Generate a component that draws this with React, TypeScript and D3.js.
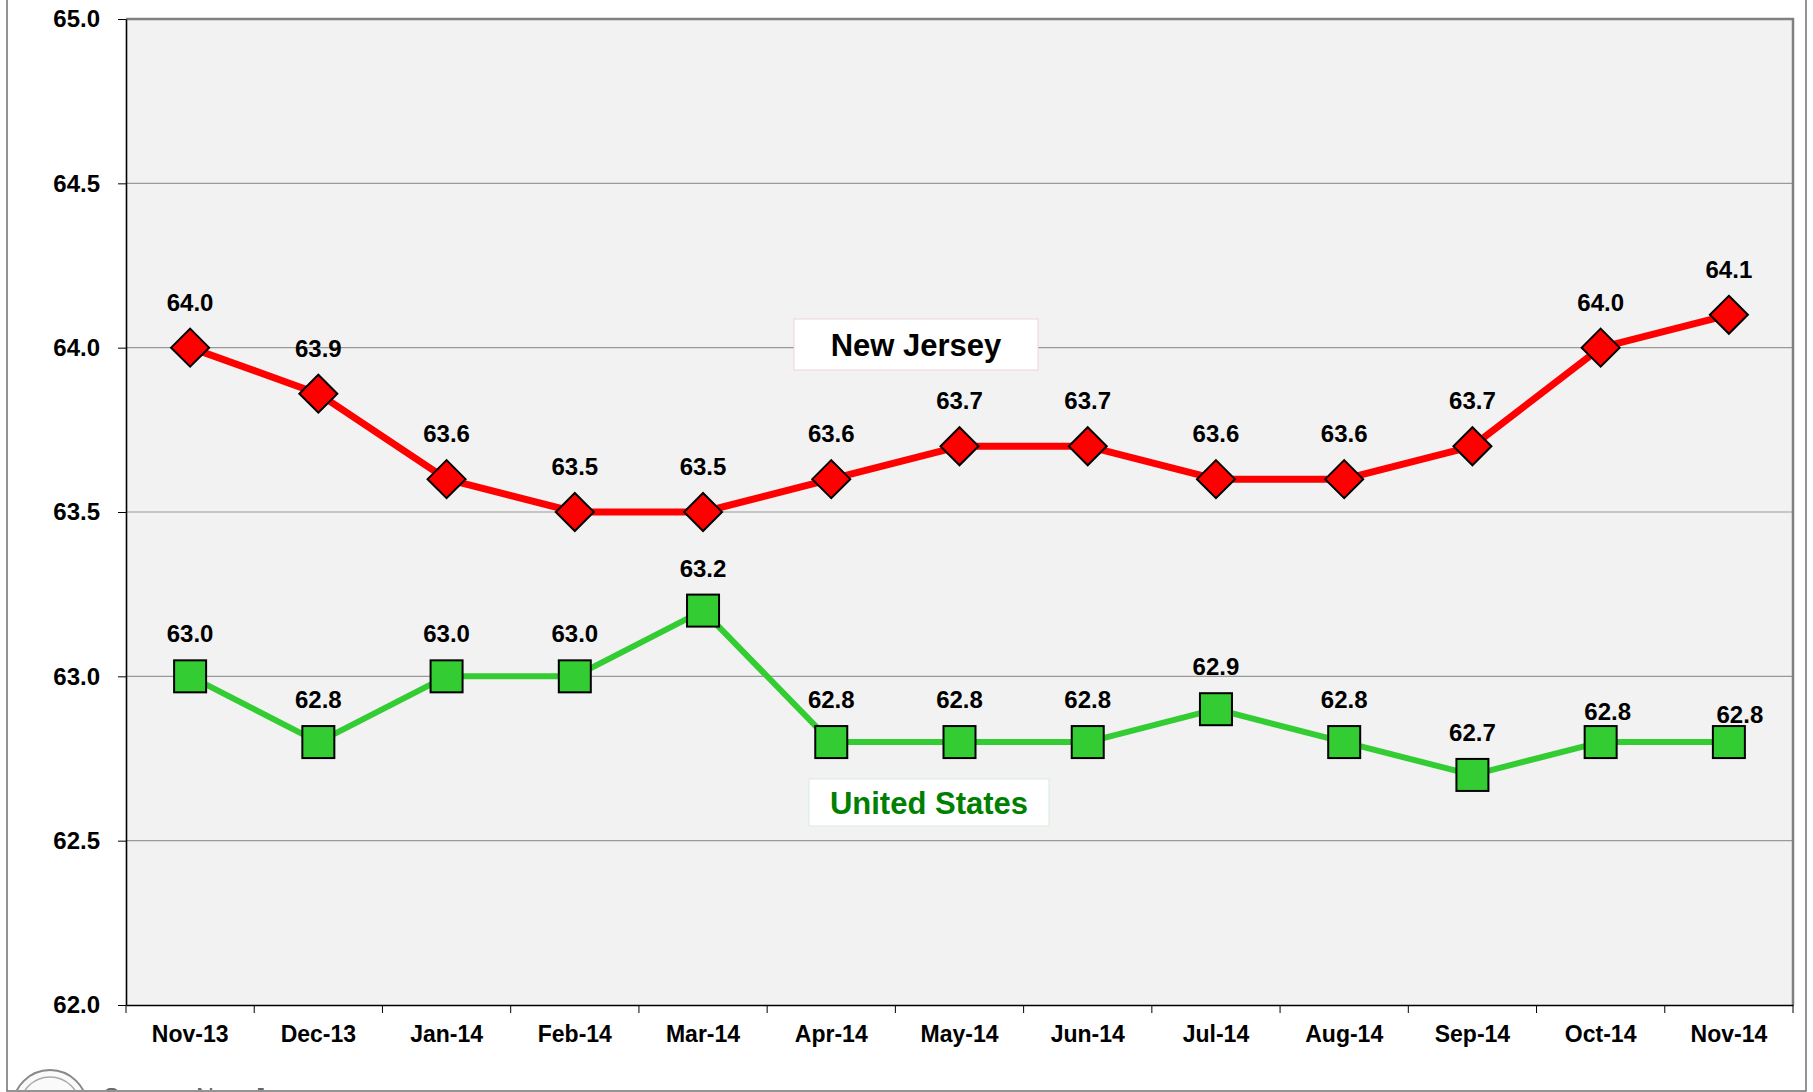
import React, { useEffect, useRef } from 'react';
import * as d3 from 'd3';

const months = ['Nov-13', 'Dec-13', 'Jan-14', 'Feb-14', 'Mar-14', 'Apr-14', 'May-14', 'Jun-14', 'Jul-14', 'Aug-14', 'Sep-14', 'Oct-14', 'Nov-14'];
const newJersey = [64.0, 63.86, 63.6, 63.5, 63.5, 63.6, 63.7, 63.7, 63.6, 63.6, 63.7, 64.0, 64.1];
const unitedStates = [63.0, 62.8, 63.0, 63.0, 63.2, 62.8, 62.8, 62.8, 62.9, 62.8, 62.7, 62.8, 62.8];
const yTicks = [62.0, 62.5, 63.0, 63.5, 64.0, 64.5, 65.0];

const W = 1813;
const H = 1092;
const FONT = '"Liberation Sans", Arial, sans-serif';

const App = () => {
  const svgRef = useRef<SVGSVGElement>(null);

  useEffect(() => {
    const margin = { top: 19, right: 20, bottom: 87, left: 126 };
    const width = W - margin.left - margin.right;
    const height = H - margin.top - margin.bottom;

    const root = d3.select(svgRef.current);
    root.selectAll('*').remove();

    root.append('rect')
      .attr('width', W).attr('height', H).attr('fill', '#fff');

    // outer frame (top edge sits outside the picture)
    root.append('rect')
      .attr('x', 7).attr('y', -3)
      .attr('width', 1799).attr('height', 1094)
      .attr('fill', 'none').attr('stroke', '#707070').attr('stroke-width', 1.5);

    // seal + source line, cut off by the frame like in the original slide
    const clip = root.append('defs').append('clipPath').attr('id', 'frameclip');
    clip.append('rect').attr('x', 8).attr('y', 0).attr('width', 1797).attr('height', 1090);
    const foot = root.append('g').attr('clip-path', 'url(#frameclip)');
    foot.append('circle').attr('cx', 50).attr('cy', 1107).attr('r', 37)
      .attr('fill', '#fafafa').attr('stroke', '#888').attr('stroke-width', 2);
    foot.append('circle').attr('cx', 50).attr('cy', 1107).attr('r', 30)
      .attr('fill', 'none').attr('stroke', '#aaa').attr('stroke-width', 1.5);
    foot.append('text').attr('x', 103).attr('y', 1106)
      .attr('font-family', FONT).attr('font-size', 25).attr('fill', '#666')
      .text('Source: New Jersey');

    const svg = root.append('g')
      .attr('transform', `translate(${margin.left},${margin.top})`);

    const x = d3.scaleBand().domain(months).range([0, width]).padding(0);
    const y = d3.scaleLinear().domain([62, 65]).range([height, 0]);
    const cx = (m: string) => (x(m) as number) + x.bandwidth() / 2;

    svg.append('rect')
      .attr('width', width).attr('height', height).attr('fill', '#f2f2f2');

    // gridlines
    svg.append('g').selectAll('line')
      .data(yTicks.slice(1, -1))
      .enter().append('line')
      .attr('x1', 0).attr('x2', width)
      .attr('y1', d => y(d)).attr('y2', d => y(d))
      .attr('stroke', '#999').attr('stroke-width', 1.2);

    // top and right border
    svg.append('path')
      .attr('d', `M0,${y(65)}H${width}V${height}`)
      .attr('fill', 'none').attr('stroke', '#808080').attr('stroke-width', 2.5);

    // y axis
    const yAxis = d3.axisLeft(y)
      .tickValues(yTicks)
      .tickFormat(d3.format('.1f'))
      .tickSize(8)
      .tickPadding(18)
      .tickSizeOuter(0);
    const gy = svg.append('g').call(yAxis);
    gy.select('.domain').attr('stroke', '#000').attr('stroke-width', 1.6);
    gy.selectAll('.tick line').attr('stroke', '#000').attr('stroke-width', 1);
    gy.selectAll('text')
      .attr('font-family', FONT).attr('font-size', 24).attr('font-weight', 'bold').attr('fill', '#000');

    // x axis
    const xAxis = d3.axisBottom(x).tickSize(0).tickPadding(21).tickSizeOuter(0);
    const gx = svg.append('g').attr('transform', `translate(0,${height})`).call(xAxis);
    gx.select('.domain').attr('stroke', '#000').attr('stroke-width', 1.6);
    gx.selectAll('text')
      .attr('font-family', FONT).attr('font-size', 23).attr('font-weight', 'bold').attr('fill', '#000');
    gx.append('g').selectAll('line')
      .data(d3.range(months.length + 1))
      .enter().append('line')
      .attr('x1', i => i * x.step()).attr('x2', i => i * x.step())
      .attr('y1', 0).attr('y2', 8)
      .attr('stroke', '#000').attr('stroke-width', 1);

    const line = d3.line<number>()
      .x((_, i) => cx(months[i]))
      .y(d => y(d));

    // United States
    svg.append('path')
      .datum(unitedStates)
      .attr('d', line)
      .attr('fill', 'none').attr('stroke', '#33cc33').attr('stroke-width', 6)
      .attr('stroke-linejoin', 'round');

    // New Jersey
    svg.append('path')
      .datum(newJersey)
      .attr('d', line)
      .attr('fill', 'none').attr('stroke', '#ff0000').attr('stroke-width', 7)
      .attr('stroke-linejoin', 'round');

    const sq = 32;
    svg.append('g').selectAll('rect')
      .data(unitedStates)
      .enter().append('rect')
      .attr('x', (_, i) => cx(months[i]) - sq / 2)
      .attr('y', d => y(d) - sq / 2)
      .attr('width', sq).attr('height', sq)
      .attr('fill', '#33cc33').attr('stroke', '#000').attr('stroke-width', 2);

    const dm = 19;
    svg.append('g').selectAll('path')
      .data(newJersey)
      .enter().append('path')
      .attr('transform', (d, i) => `translate(${cx(months[i])},${y(d)})`)
      .attr('d', `M0,${-dm}L${dm},0L0,${dm}L${-dm},0Z`)
      .attr('fill', '#ff0000').attr('stroke', '#000').attr('stroke-width', 2);

    // value labels
    const usNudge: Record<string, [number, number]> = { 'Oct-14': [7, 12], 'Nov-14': [11, 15] };
    svg.append('g').selectAll('text')
      .data(newJersey)
      .enter().append('text')
      .attr('x', (_, i) => cx(months[i]))
      .attr('y', d => y(d) - 37)
      .attr('text-anchor', 'middle')
      .attr('font-family', FONT).attr('font-size', 24).attr('font-weight', 'bold').attr('fill', '#000')
      .text(d => d.toFixed(1));

    svg.append('g').selectAll('text')
      .data(unitedStates)
      .enter().append('text')
      .attr('x', (_, i) => cx(months[i]) + (usNudge[months[i]]?.[0] ?? 0))
      .attr('y', (d, i) => y(d) - 34 + (usNudge[months[i]]?.[1] ?? 0))
      .attr('text-anchor', 'middle')
      .attr('font-family', FONT).attr('font-size', 24).attr('font-weight', 'bold').attr('fill', '#000')
      .text(d => d.toFixed(1));

    // series name boxes
    const names = [
      { text: 'New Jersey', x: 794, y: 319, w: 244, h: 51, color: '#000', border: '#f0d4d4' },
      { text: 'United States', x: 809, y: 779, w: 240, h: 47, color: '#008000', border: '#d8ecd8' },
    ];
    const ng = root.append('g').selectAll('g').data(names).enter().append('g');
    ng.append('rect')
      .attr('x', d => d.x).attr('y', d => d.y)
      .attr('width', d => d.w).attr('height', d => d.h)
      .attr('fill', '#fff').attr('stroke', d => d.border).attr('stroke-width', 1);
    ng.append('text')
      .attr('x', d => d.x + d.w / 2).attr('y', d => d.y + d.h / 2 + 11)
      .attr('text-anchor', 'middle')
      .attr('font-family', FONT).attr('font-size', 31).attr('font-weight', 'bold')
      .attr('fill', d => d.color)
      .text(d => d.text);
  }, []);

  return (
    <svg
      ref={svgRef}
      width={W}
      height={H}
      style={{ position: 'absolute', left: 0, top: 0, display: 'block' }}
    />
  );
};

export default App;
